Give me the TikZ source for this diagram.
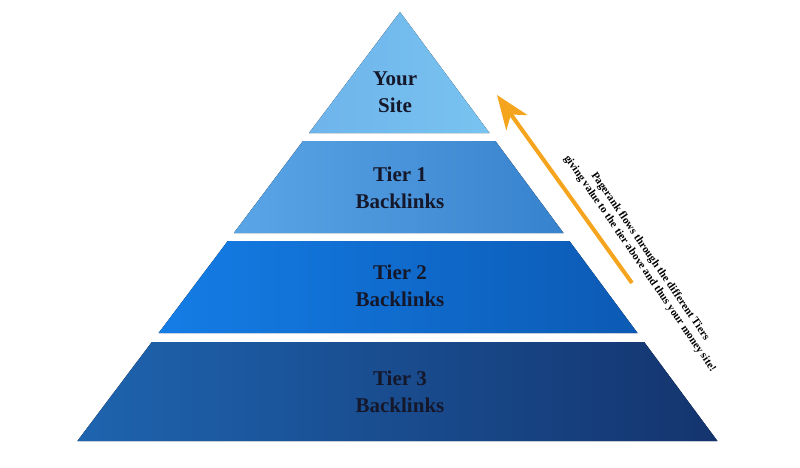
\documentclass[tikz,border=0pt]{standalone}
\usepackage{fontspec}
\setmainfont{Liberation Serif}
\usetikzlibrary{arrows.meta}
\definecolor{lab}{HTML}{15172A}
\definecolor{orng}{HTML}{F5A41E}
\tikzset{lbl/.style={font=\bfseries\fontsize{21}{27}\selectfont,text=lab,align=center}}
\newcommand{\lx}[1]{400-0.752*(#1-12)}
\newcommand{\rx}[1]{400+0.74*(#1-12)}
\begin{document}
\begin{tikzpicture}[x=1pt,y=-1pt]
\useasboundingbox (0,0) rectangle (800,467);
\fill[left color={rgb,255:red,110;green,180;blue,235}, right color={rgb,255:red,120;green,195;blue,240}] (400,12) -- ({\rx{133}},133) -- ({\lx{133}},133) -- cycle;
\fill[left color={rgb,255:red,90;green,165;blue,230}, right color={rgb,255:red,55;green,130;blue,205}] ({\lx{141}},141) -- ({\rx{141}},141) -- ({\rx{233}},233) -- ({\lx{233}},233) -- cycle;
\fill[left color={rgb,255:red,20;green,125;blue,230}, right color={rgb,255:red,12;green,90;blue,180}] ({\lx{241}},241) -- ({\rx{241}},241) -- ({\rx{333}},333) -- ({\lx{333}},333) -- cycle;
\fill[left color={rgb,255:red,30;green,100;blue,175}, right color={rgb,255:red,20;green,52;blue,110}] ({\lx{342}},342) -- ({\rx{342}},342) -- ({\rx{441}},441) -- ({\lx{441}},441) -- cycle;
\node[lbl] (t0) at (395,92) {Your\\Site};
\node[lbl] (t1) at (400,188) {Tier 1\\Backlinks};
\node[lbl] (t2) at (400,286) {Tier 2\\Backlinks};
\node[lbl] (t3) at (400,392) {Tier 3\\Backlinks};
\coordinate (as) at (632,283);
\coordinate (ae) at (497,95);
\draw[orng,line width=4pt,-{Stealth[length=34pt,width=26pt,inset=10pt]}] (as) -- (ae);
\node[rotate=-55.5,font=\bfseries\fontsize{11}{12.5}\selectfont,align=center,text=black] (txt) at (645,260) {Pagerank flows through the different Tiers\\giving value to the tier above and thus your money site!};
\end{tikzpicture}
\end{document}
